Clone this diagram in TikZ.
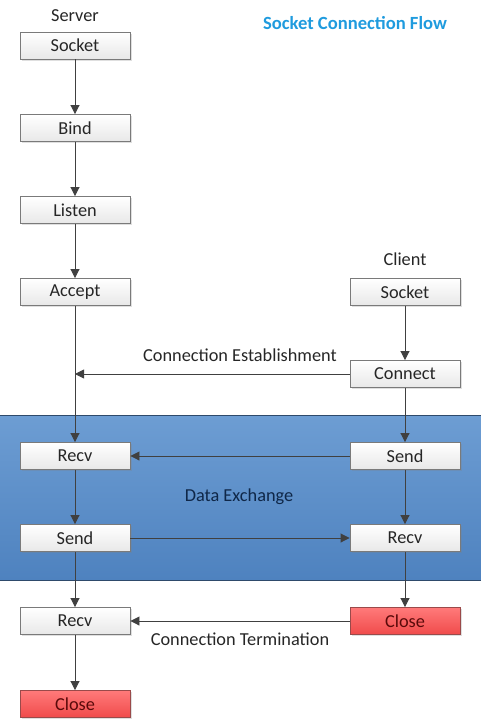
\documentclass[tikz,border=0pt]{standalone}
\usepackage{fontspec}
\setmainfont{Carlito}
\usetikzlibrary{arrows.meta,shadows}
\definecolor{boxline}{HTML}{7A7A7A}
\definecolor{arrowc}{HTML}{404040}
\definecolor{titleblue}{HTML}{1F9BDE}
\definecolor{bandtop}{HTML}{6D9DD3}
\definecolor{bandbot}{HTML}{4E82BF}
\definecolor{bandline}{HTML}{2E4A6B}
\definecolor{closetop}{HTML}{FF7A7A}
\definecolor{closebot}{HTML}{F04B4B}
\definecolor{closeline}{HTML}{9A4A4A}
\definecolor{closetext}{HTML}{5A0A0A}
\definecolor{navytext}{HTML}{0F2748}
\definecolor{bodytext}{HTML}{262626}
\begin{document}
\begin{tikzpicture}[x=1pt,y=-1pt,
  txt/.style={font=\fontsize{18.3}{21}\selectfont, inner sep=0pt, text=bodytext},
  stepbox/.style={txt, draw=boxline, line width=0.9pt, top color=white, bottom color=gray!18,
    minimum width=110pt, minimum height=27pt,
    drop shadow={shadow xshift=1.5pt, shadow yshift=-1.5pt, opacity=0.25}},
  closebox/.style={stepbox, draw=closeline, top color=closetop, bottom color=closebot, text=closetext},
  flow/.style={draw=arrowc, line width=0.9pt, -{Triangle[length=9pt,width=9pt]}},
  plain/.style={draw=arrowc, line width=0.9pt}
]
\useasboundingbox (0,0) rectangle (481,724);
% band
\shade[top color=bandtop, bottom color=bandbot] (0,415) rectangle (481,580);
\draw[bandline, line width=0.9pt] (0,415) -- (481,415);
\draw[bandline, line width=0.9pt] (0,580) -- (481,580);

\node[txt, text=titleblue, font=\fontsize{18.6}{21}\selectfont\bfseries] (title) at (355,23) {Socket Connection Flow};
\node[txt] (server) at (75,16) {Server};
\node[txt] (client) at (405,259) {Client};

% server column
\node[stepbox] (ssock) at (75,45.5) {Socket};
\node[stepbox] (sbind) at (75,128) {Bind};
\node[stepbox] (slist) at (75,210) {Listen};
\node[stepbox] (sacc) at (75,292) {Accept};
\node[stepbox] (srecv) at (75,456) {Recv};
\node[stepbox] (ssend) at (75,538) {Send};
\node[stepbox] (srecv2) at (75,621) {Recv};
\node[closebox] (sclose) at (75,704) {Close};

% client column
\node[stepbox] (csock) at (405,292) {Socket};
\node[stepbox] (cconn) at (405,374) {Connect};
\node[stepbox] (csend) at (405,456) {Send};
\node[stepbox] (crecv) at (405,538) {Recv};
\node[closebox] (cclose) at (405,621) {Close};

\coordinate (est) at (75,374);

% labels
\node[txt] (lest) at (240,355) {Connection Establishment};
\node[txt, text=navytext] (ldata) at (239,497) {Data Exchange};
\node[txt] (lterm) at (240,639) {Connection Termination};

% server arrows
\draw[flow] (ssock) -- (sbind);
\draw[flow] (sbind) -- (slist);
\draw[flow] (slist) -- (sacc);
\draw[flow] (sacc) -- (srecv);
\draw[flow] (srecv) -- (ssend);
\draw[flow] (ssend) -- (srecv2);
\draw[flow] (srecv2) -- (sclose);
% client arrows
\draw[flow] (csock) -- (cconn);
\draw[flow] (cconn) -- (csend);
\draw[flow] (csend) -- (crecv);
\draw[flow] (crecv) -- (cclose);
% cross arrows
\draw[flow] (cconn) -- (est);
\draw[flow] (csend) -- (srecv);
\draw[flow] (ssend) -- (crecv);
\draw[flow] (cclose) -- (srecv2);
\end{tikzpicture}
\end{document}
